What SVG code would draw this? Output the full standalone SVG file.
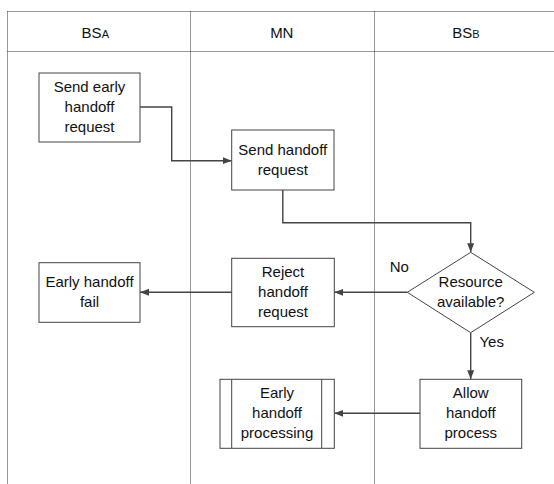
<svg xmlns="http://www.w3.org/2000/svg" width="554" height="484" viewBox="0 0 554 484">
<style>
text{font-family:"Liberation Sans",Arial,sans-serif;font-size:15px;fill:#111;text-anchor:middle}
.lane{stroke:#333;stroke-width:1;stroke-dasharray:1 1;fill:none}
.box{fill:#fff;stroke:#444;stroke-width:1}
.conn{fill:none;stroke:#444;stroke-width:1.4}
.sub{font-size:11px}
</style>
<defs>
<marker id="arr" markerUnits="userSpaceOnUse" markerWidth="10" markerHeight="8" refX="9" refY="3.5" orient="auto">
<path d="M0,0 L9,3.5 L0,7 z" fill="#444"/>
</marker>
</defs>
<rect width="554" height="484" fill="#fff"/>
<g id="lanes">
<line class="lane" x1="7.5" y1="11.5" x2="554" y2="11.5"/>
<line class="lane" x1="7.5" y1="51.5" x2="554" y2="51.5"/>
<line class="lane" x1="7.5" y1="11.5" x2="7.5" y2="484"/>
<line class="lane" x1="190.5" y1="11.5" x2="190.5" y2="484"/>
<line class="lane" x1="374.5" y1="11.5" x2="374.5" y2="484"/>
<text x="95.3" y="37.5">BS<tspan class="sub">A</tspan></text>
<text x="281.8" y="37.5">MN</text>
<text x="466" y="37.5">BS<tspan class="sub">B</tspan></text>
</g>
<g id="connectors">
<path class="conn" d="M140,107 H171.7 V160.7 H231.7" marker-end="url(#arr)"/>
<path class="conn" d="M282.8,190 V222.7 H470.7 V252.3" marker-end="url(#arr)"/>
<path class="conn" d="M407.3,292.3 H334.3" marker-end="url(#arr)"/>
<path class="conn" d="M231.7,292.3 H140" marker-end="url(#arr)"/>
<path class="conn" d="M470.7,332.7 V379.3" marker-end="url(#arr)"/>
<path class="conn" d="M420,413.3 H334.3" marker-end="url(#arr)"/>
<text x="399.3" y="271.7">No</text>
<text x="491.7" y="347">Yes</text>
</g>
<g id="send-early">
<rect class="box" x="39" y="73" width="101" height="69"/>
<text x="89.5" y="91.7">Send early</text>
<text x="89.5" y="111.7">handoff</text>
<text x="89.5" y="131.7">request</text>
</g>
<g id="send-handoff">
<rect class="box" x="231.7" y="130" width="102.3" height="60"/>
<text x="282.8" y="154.5">Send handoff</text>
<text x="282.8" y="174.5">request</text>
</g>
<g id="resource">
<polygon class="box" points="470.7,252.3 534.3,292.3 470.7,332.7 407.3,292.3"/>
<text x="470.7" y="286.7">Resource</text>
<text x="470.7" y="306.7">available?</text>
</g>
<g id="reject">
<rect class="box" x="231.7" y="258.3" width="102.6" height="68.4"/>
<text x="283" y="277">Reject</text>
<text x="283" y="297">handoff</text>
<text x="283" y="317">request</text>
</g>
<g id="fail">
<rect class="box" x="39" y="262.7" width="101" height="59.6"/>
<text x="89.5" y="286.7">Early handoff</text>
<text x="89.5" y="306.7">fail</text>
</g>
<g id="processing">
<rect class="box" x="220" y="379.3" width="114.3" height="69"/>
<line class="box" x1="231.7" y1="379.3" x2="231.7" y2="448.3"/>
<line class="box" x1="321.7" y1="379.3" x2="321.7" y2="448.3"/>
<text x="277" y="398">Early</text>
<text x="277" y="418">handoff</text>
<text x="277" y="438">processing</text>
</g>
<g id="allow">
<rect class="box" x="420" y="379.3" width="101.7" height="69"/>
<text x="470.8" y="398">Allow</text>
<text x="470.8" y="418">handoff</text>
<text x="470.8" y="438">process</text>
</g>
</svg>
